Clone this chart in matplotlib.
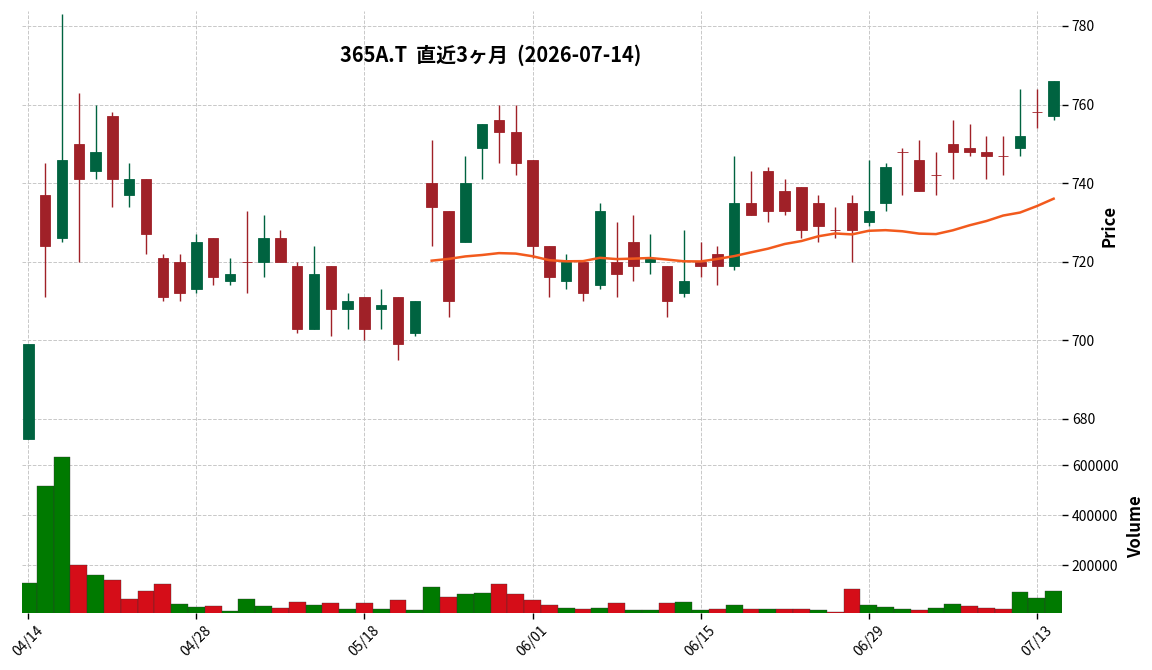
import numpy as np
import pandas as pd
import matplotlib
matplotlib.use('Agg')
import matplotlib.pyplot as plt
from matplotlib.ticker import FixedLocator

plt.rcParams['font.family'] = ['Noto Sans CJK JP', 'DejaVu Sans']

# trading days (TSE holidays removed)
holidays = ['2026-04-29', '2026-05-04', '2026-05-05', '2026-05-06']
dates = pd.bdate_range('2026-04-14', '2026-07-14')
dates = dates[~dates.isin(pd.to_datetime(holidays))]

opens = [675, 737, 726, 750, 743, 757, 737, 741, 721, 720, 713, 726, 715, 720, 720, 726, 719, 703, 719, 708,
         711, 708, 711, 702, 740, 733, 725, 749, 756, 753, 746, 724, 715, 720, 714, 720, 725, 720, 719, 712,
         720, 722, 719, 735, 743, 738, 739, 735, 728, 735, 730, 735, 748, 746, 742, 750, 749, 748, 747, 749,
         758, 757]
highs = [699, 745, 783, 763, 760, 758, 745, 741, 722, 722, 727, 726, 721, 733, 732, 728, 720, 724, 719, 712,
         711, 713, 711, 710, 751, 733, 747, 755, 760, 760, 746, 724, 722, 720, 735, 730, 732, 727, 719, 728,
         725, 724, 747, 743, 744, 741, 739, 737, 734, 737, 746, 745, 749, 751, 748, 756, 755, 752, 752, 764,
         764, 766]
lows = [675, 711, 725, 720, 741, 734, 734, 722, 710, 710, 712, 714, 714, 712, 716, 720, 702, 703, 701, 703,
        700, 703, 695, 701, 724, 706, 725, 741, 745, 742, 721, 711, 713, 710, 713, 711, 715, 717, 706, 711,
        716, 714, 718, 732, 730, 732, 726, 725, 726, 720, 729, 733, 737, 738, 737, 741, 747, 741, 742, 747,
        754, 756]
closes = [699, 724, 746, 741, 748, 741, 741, 727, 711, 712, 725, 716, 717, 720, 726, 720, 703, 717, 708, 710,
          703, 709, 699, 710, 734, 710, 740, 755, 753, 745, 724, 716, 720, 712, 733, 717, 719, 721, 710, 715,
          719, 719, 735, 732, 733, 733, 728, 729, 728, 728, 733, 744, 748, 738, 742, 748, 748, 747, 747, 752,
          758, 766]
volumes = [129000, 517000, 633000, 201000, 161000, 141000, 65000, 97000, 125000, 45000,
           33000, 37000, 17000, 65000, 37000, 29000, 53000, 41000, 49000, 25000,
           49000, 25000, 61000, 21000, 113000, 73000, 85000, 89000, 125000, 85000,
           61000, 41000, 29000, 25000, 29000, 49000, 21000, 21000, 49000, 53000,
           21000, 25000, 41000, 25000, 25000, 25000, 25000, 21000, 13000, 105000,
           41000, 33000, 25000, 21000, 29000, 45000, 37000, 29000, 25000, 93000,
           69000, 97000]

title = '365A.T  直近3ヶ月  (2026-07-14)'

df = pd.DataFrame({'Open': opens, 'High': highs, 'Low': lows, 'Close': closes, 'Volume': volumes},
                  index=dates)
df['MA25'] = df['Close'].rolling(25).mean()
x = np.arange(len(df))

up_col, down_col = '#006340', '#a02128'
vup_col, vdown_col = '#007a00', '#d50d18'
grid_kw = dict(color='#c8c8c8', linestyle='--', linewidth=0.7)

fig = plt.figure(figsize=(11.52, 6.70), dpi=100)
ax = fig.add_axes([0.0191, 0.3418, 0.9028, 0.6418])
axv = fig.add_axes([0.0191, 0.0857, 0.9028, 0.2561], sharex=ax)

# candles
is_up = df['Close'] > df['Open']
ccols = np.where(is_up, up_col, down_col)
ax.vlines(x, df['Low'], df['High'], colors=ccols, linewidth=1.0, zorder=2)
body_lo = np.minimum(df['Open'], df['Close'])
body_h = (df['Close'] - df['Open']).abs()
ax.bar(x, body_h, width=0.62, bottom=body_lo, color=ccols, edgecolor=ccols, linewidth=0.6, zorder=3)
ax.plot(x, df['MA25'], color='#f25a1d', linewidth=1.8, zorder=4)

# volume coloured by close vs previous close
vup = df['Close'] > df['Close'].shift(1)
vup.iloc[0] = True
vcols = np.where(vup, vup_col, vdown_col)
axv.bar(x, df['Volume'], width=1.0, color=vcols, edgecolor='#333333', linewidth=0.25, zorder=2)

ax.set_xlim(-0.375, 61.5)
ax.set_ylim(674.4, 783.8)
axv.set_ylim(10700, 1.1 * df['Volume'].max())

tick_idx = list(range(0, len(df), 10))
for a in (ax, axv):
    for s in a.spines.values():
        s.set_visible(False)
    a.yaxis.tick_right()
    a.yaxis.set_label_position('right')
    a.grid(True, **grid_kw)
    a.set_axisbelow(True)
    a.xaxis.set_major_locator(FixedLocator(tick_idx))
    a.tick_params(axis='y', length=4, width=1, labelsize=10, pad=3)
    a.tick_params(axis='x', length=4, width=1, labelsize=10)

ax.set_yticks([680, 700, 720, 740, 760, 780])
ax.tick_params(axis='x', length=0, labelbottom=False)
axv.set_yticks([200000, 400000, 600000])
axv.set_yticklabels(['200000', '400000', '600000'])
axv.set_xticklabels([df.index[i].strftime('%m/%d') for i in tick_idx], rotation=45, ha='center')

ax.set_ylabel('Price', fontsize=12, fontweight='bold', labelpad=4)
axv.set_ylabel('Volume', fontsize=12, fontweight='bold', labelpad=6)

fig.text(0.4257, 0.918, title, ha='center', va='center', fontsize=14.4, fontweight='bold')

fig.savefig('out.png', dpi=100)
